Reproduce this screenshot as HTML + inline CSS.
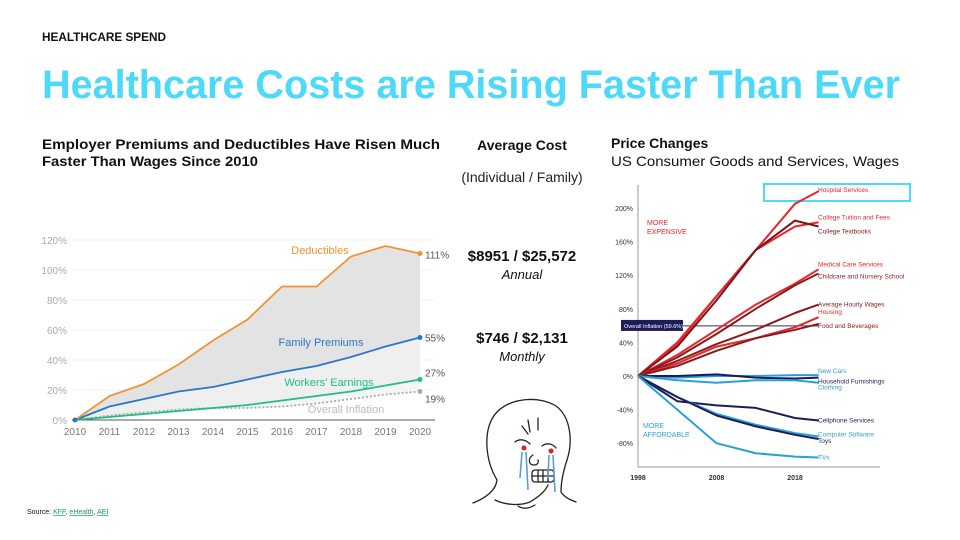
<!DOCTYPE html>
<html><head><meta charset="utf-8"><style>
html,body{margin:0;padding:0;background:#fff;}
svg{display:block;font-family:"Liberation Sans",sans-serif;}
</style></head><body>
<svg id="page" width="960" height="540" viewBox="0 0 960 540">
<text x="42" y="41" font-size="12" font-weight="bold" fill="#111" textLength="124" lengthAdjust="spacingAndGlyphs">HEALTHCARE SPEND</text>
<text x="42" y="98" font-size="40" font-weight="bold" fill="#4dd9f9" textLength="858" lengthAdjust="spacingAndGlyphs">Healthcare Costs are Rising Faster Than Ever</text>
<text x="42" y="149" font-size="14" font-weight="bold" fill="#111" textLength="398" lengthAdjust="spacingAndGlyphs">Employer Premiums and Deductibles Have Risen Much</text>
<text x="42" y="166" font-size="14" font-weight="bold" fill="#111" textLength="216" lengthAdjust="spacingAndGlyphs">Faster Than Wages Since 2010</text>
<text x="522" y="150" font-size="14" font-weight="bold" fill="#111" text-anchor="middle">Average Cost</text>
<text x="522" y="182" font-size="14" fill="#222" text-anchor="middle">(Individual / Family)</text>
<text x="522" y="261" font-size="15" font-weight="bold" fill="#111" text-anchor="middle">$8951 / $25,572</text>
<text x="522" y="279" font-size="13" font-style="italic" fill="#111" text-anchor="middle">Annual</text>
<text x="522" y="343" font-size="15" font-weight="bold" fill="#111" text-anchor="middle">$746 / $2,131</text>
<text x="522" y="361" font-size="13" font-style="italic" fill="#111" text-anchor="middle">Monthly</text>
<text x="611" y="148" font-size="14" font-weight="bold" fill="#111">Price Changes</text>
<text x="611" y="166" font-size="14" fill="#111" textLength="288" lengthAdjust="spacingAndGlyphs">US Consumer Goods and Services, Wages</text>
<text x="27" y="514" font-size="7" fill="#111">Source: <tspan fill="#1a9a6a" text-decoration="underline">KFF</tspan>, <tspan fill="#1a9a6a" text-decoration="underline">eHealth</tspan>, <tspan fill="#1a9a6a" text-decoration="underline">AEI</tspan></text>

<g fill="none" stroke="#222" stroke-width="1.3" stroke-linecap="round">
<path d="M473 503 C486 498 496 490 497 480 C485 460 482 428 497 412 C512 397 540 396 556 406 C571 417 573 442 567 460 C563 472 561 482 561 492 C565 498 571 500 576 502"/>
<path d="M495 500 C505 505 520 506 530 502 C538 497 545 492 548 485"/>
<path d="M518 506 C524 510 530 508 535 505"/>
<path d="M515 442 C520 438 526 440 530 444 M542 446 C547 442 553 444 556 448"/>
<path d="M528 420 l2 12 M538 418 l0 12 M522 426 l6 8"/>
<path d="M533 455 C528 458 528 465 534 465 C537 465 539 463 538 460"/>
<rect x="532" y="470" width="22" height="12" rx="3"/>
<path d="M538 470 l0 12 M543 470 l0 12 M548 470 l0 12 M532 476 l22 0"/>
</g>
<g>
<circle cx="524" cy="448" r="2.5" fill="#d22"/><circle cx="551" cy="451" r="2.5" fill="#d22"/>
<path d="M522 452 L520 478 M526 452 L528 490 M549 455 L548 478 M553 455 L555 492" stroke="#5b9be0" stroke-width="1.6" fill="none"/></g>

<g id="left"></g>
<g id="right"></g>
</svg>
<script>
const years = [2010,2011,2012,2013,2014,2015,2016,2017,2018,2019,2020];
const deductibles = [0,16,24,37,53,67,89,89,109,116,111];
const familyPremiums = [0,9,14,19,22,27,32,36,42,49,55];
const workersEarnings = [0,2,4,6,8,10,13,16,19,23,27];
const overallInflation = [0,3,5,7,8,8,9,11,14,17,19];
const leftTicks = [0,20,40,60,80,100,120];

const rYears = [1998,2003,2008,2013,2018,2021];
const hospital = [0,40,95,150,205,220];
const tuition = [0,38,95,150,178,183];
const textbooks = [0,35,90,150,185,178];
const medical = [0,25,55,85,110,127];
const childcare = [0,22,50,80,108,122];
const wages = [0,18,38,55,75,85];
const housing = [0,15,35,45,58,70];
const food = [0,12,30,45,55,62];
const newCars = [0,-2,0,0,1,1];
const household = [0,0,2,-2,-3,-2];
const clothing = [0,-5,-8,-5,-5,-8];
const cellphone = [0,-30,-35,-38,-50,-53];
const software = [0,-25,-45,-58,-68,-72];
const toys = [0,-25,-47,-60,-70,-75];
const tvs = [0,-40,-80,-92,-96,-97];
const rightTicks = [-80,-40,0,40,80,120,160,200];
const rightYearTicks = [1998,2008,2018];
const inflationLevel = 59.6;

const NS="http://www.w3.org/2000/svg";
function mk(tag,attrs,parent){const e=document.createElementNS(NS,tag);for(const k in attrs)e.setAttribute(k,attrs[k]);parent.appendChild(e);return e;}

const L=document.getElementById('left');
const lx=y=>75+(y-2010)*34.5, ly=v=>420-v*1.5;
leftTicks.forEach(t=>{
 const g=mk('line',{x1:72,x2:435,y1:ly(t),y2:ly(t),stroke:'#f0f0f0'},L);
 
 const tx=mk('text',{x:67,y:ly(t)+4,'font-size':10,fill:'#aaa','text-anchor':'end'},L);tx.textContent=t+'%';
 
});
years.forEach(y=>{const tx=mk('text',{x:lx(y),y:435,'font-size':10,fill:'#777','text-anchor':'middle'},L);tx.textContent=y;
 });
function pts(arr){return arr.map((v,i)=>lx(years[i])+','+ly(v)).join(' ');}
function area(top,bot,fill,name){const p=top.map((v,i)=>lx(years[i])+','+ly(v)).concat(bot.map((v,i)=>lx(years[i])+','+ly(v)).reverse()).join(' ');
 const a=mk('polygon',{points:p,fill:fill},L);}
area(deductibles,familyPremiums,'#e3e3e3','deductible-area');
area(familyPremiums,workersEarnings,'#efefef','premium-area');
area(workersEarnings,overallInflation.map((v,i)=>Math.min(v,workersEarnings[i])),'#f5f5f5','earnings-area');
const ax=mk('line',{x1:72,x2:435,y1:420,y2:420,stroke:'#555'},L);
function series(arr,col,name,dash,labelTxt,lblY){
 const p=mk('polyline',{points:pts(arr),fill:'none',stroke:col,'stroke-width':1.8},L);if(dash)p.setAttribute('stroke-dasharray',dash);
 
 const c=mk('circle',{cx:lx(2020),cy:ly(arr[arr.length-1]),r:2.5,fill:col},L);
 const t=mk('text',{x:425,y:lblY,'font-size':10,fill:'#555'},L);t.textContent=labelTxt;
}
series(overallInflation,'#aaa','inflation','2,2',overallInflation[10]+'%',ly(overallInflation[10])+11);
series(workersEarnings,'#1fbf7f','earnings',null,workersEarnings[10]+'%',ly(workersEarnings[10])-3);
series(familyPremiums,'#2a78c4','premiums',null,familyPremiums[10]+'%',ly(familyPremiums[10])+4);
series(deductibles,'#f39233','deductibles',null,deductibles[10]+'%',ly(deductibles[10])+5);
const sc=mk('circle',{cx:lx(2010),cy:ly(0),r:2.5,fill:'#2a78c4'},L);
[['Deductibles',320,254,'#f39233'],['Family Premiums',321,346,'#2a78c4'],["Workers' Earnings",329,386,'#1fbf7f'],['Overall Inflation',346,413,'#bbb']].forEach(d=>{
 const t=mk('text',{x:d[1],y:d[2],'font-size':11,fill:d[3],'text-anchor':'middle'},L);t.textContent=d[0];
 });

const R=document.getElementById('right');
const rx=y=>638+(y-1998)*7.85, ry=v=>376-v*0.84;
const va=mk('line',{x1:638,x2:638,y1:185,y2:467,stroke:'#999'},R);
const ha=mk('line',{x1:638,x2:880,y1:467,y2:467,stroke:'#999'},R);
rightTicks.forEach(t=>{const tx=mk('text',{x:633,y:ry(t)+3,'font-size':7,fill:'#333','text-anchor':'end'},R);tx.textContent=t+'%';
 });
rightYearTicks.forEach(y=>{const tx=mk('text',{x:rx(y),y:480,'font-size':7,fill:'#333','font-weight':'bold','text-anchor':'middle'},R);tx.textContent=y;
 });
const il=mk('line',{x1:638,x2:rx(2021),y1:ry(inflationLevel),y2:ry(inflationLevel),stroke:'#335'},R);
const ib=mk('rect',{x:621,y:ry(inflationLevel)-6,width:62,height:11,fill:'#1c1c5a'},R);
const it=mk('text',{x:624,y:ry(inflationLevel)+2,'font-size':5.5,fill:'#fff'},R);it.textContent='Overall Inflation ('+inflationLevel+'%)';
const hb=mk('rect',{x:764,y:184,width:146,height:17,fill:'none',stroke:'#4dd9f9','stroke-width':2},R);
const rs=[[hospital,'#e8262b','Hospital Services',-1],[tuition,'#e8262b','College Tuition and Fees',-5],[textbooks,'#7a1515','College Textbooks',5],
[medical,'#e8262b','Medical Care Services',-5],[childcare,'#8a1b1b','Childcare and Nursery School',3],[wages,'#8a1b1b','Average Hourly Wages',0],
[housing,'#e8262b','Housing',-5],[food,'#8a1b1b','Food and Beverages',2],[newCars,'#2aa0d8','New Cars',-4],[household,'#1c1c5a','Household Furnishings',4],
[clothing,'#2aa0d8','Clothing',5],[cellphone,'#1c1c5a','Cellphone Services',0],[software,'#2aa0d8','Computer Software',-2],[toys,'#1c1c5a','Toys',2],[tvs,'#2aa0d8','TVs',0]];
rs.forEach(s=>{
 const p=mk('polyline',{points:s[0].map((v,i)=>rx(rYears[i])+','+ry(v)).join(' '),fill:'none',stroke:s[1],'stroke-width':2,'stroke-linejoin':'round'},R);
 
 const t=mk('text',{x:818,y:ry(s[0][5])+s[3]+2,'font-size':6.5,fill:s[1]},R);t.textContent=s[2];
 
});
[['MORE',647,225,'#e8262b'],['EXPENSIVE',647,234,'#e8262b'],['MORE',643,428,'#2aa0d8'],['AFFORDABLE',643,437,'#2aa0d8']].forEach(d=>{
 const t=mk('text',{x:d[1],y:d[2],'font-size':7,fill:d[3]},R);t.textContent=d[0];});
</script>
</body></html>
